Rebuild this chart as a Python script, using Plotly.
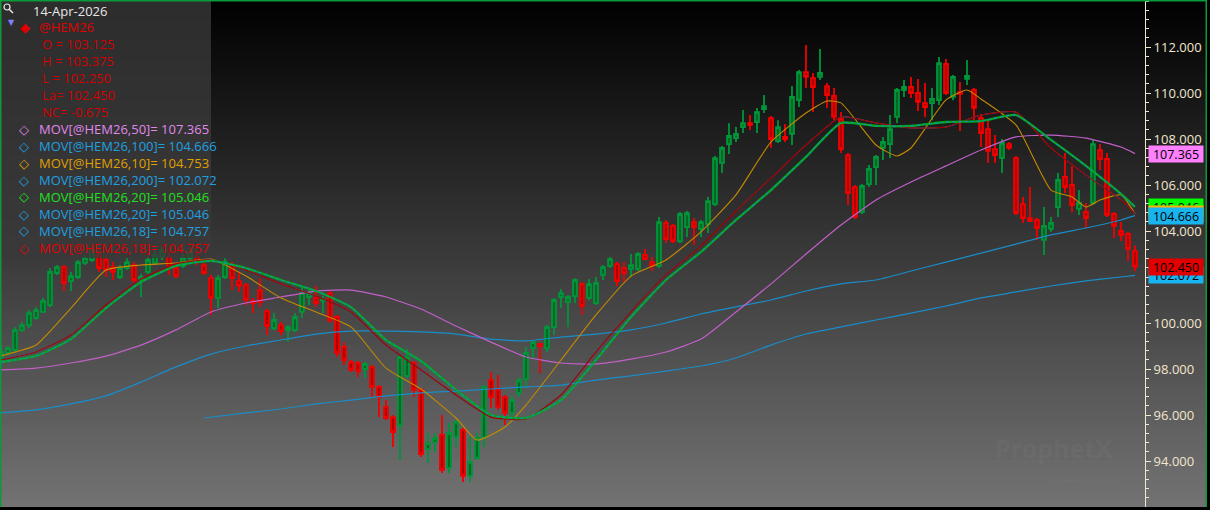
import plotly.graph_objects as go

# Daily bars of @HEM26, last bar = 14-Apr-2026
opens = [
    98.39, 98.70, 98.83, 99.69, 99.91, 100.22, 100.48, 100.78, 102.17, 102.43,
    101.82, 102.00, 102.61, 102.74, 102.96, 102.74, 102.43, 102.00, 102.39, 102.52,
    101.87, 102.22, 102.61, 102.87, 102.87, 102.39, 102.48, 102.82, 102.87, 102.52,
    101.95, 101.09, 102.00, 102.52, 101.82, 101.65, 100.96, 101.43, 100.52, 99.78,
    99.91, 99.69, 99.69, 100.48, 101.13, 101.09, 100.96, 101.30, 100.26, 98.96,
    98.30, 98.26, 98.00, 98.09, 97.22, 96.35, 95.91, 95.56, 97.70, 98.26,
    97.09, 94.52, 94.82, 95.13, 93.70, 95.04, 95.35, 93.35, 94.13, 95.04,
    97.52, 97.09, 96.78, 96.09, 96.96, 97.56, 98.91, 99.09, 98.91, 99.82,
    101.13, 100.91, 101.17, 101.69, 101.09, 100.87, 102.09, 102.48, 102.56, 102.39,
    102.35, 102.35, 102.96, 102.65, 102.48, 104.35, 104.22, 103.56, 104.17, 104.39,
    104.09, 104.30, 105.17, 106.96, 107.78, 108.04, 108.52, 108.69, 108.74, 109.30,
    108.91, 107.91, 108.09, 108.22, 109.69, 110.91, 110.65, 110.70, 110.30, 109.87,
    108.87, 107.30, 105.91, 104.82, 106.04, 106.78, 107.61, 107.78, 108.96, 110.13,
    110.26, 110.00, 109.56, 109.56, 109.69, 111.26, 109.83, 110.04, 110.61, 110.13,
    108.91, 108.43, 107.56, 107.17, 107.78, 107.17, 105.17, 104.56, 104.48, 103.61,
    104.09, 105.04, 106.35, 106.00, 104.96, 104.83, 105.22, 107.52, 107.13, 104.74,
    104.00, 103.87, 103.125,
]
highs = [
    99.04, 99.00, 99.82, 100.04, 100.56, 100.69, 101.09, 102.39, 102.52, 102.52,
    102.22, 102.74, 102.96, 103.39, 103.17, 102.96, 102.65, 102.52, 102.82, 102.65,
    102.13, 102.87, 103.17, 103.30, 103.17, 102.65, 103.00, 103.26, 103.17, 102.74,
    102.09, 102.09, 102.82, 102.65, 102.22, 101.74, 101.09, 101.95, 100.61, 100.43,
    100.04, 99.91, 100.43, 101.61, 101.48, 101.61, 101.17, 101.39, 100.35, 99.17,
    98.39, 98.35, 98.30, 98.17, 97.30, 96.65, 96.00, 98.61, 98.87, 98.35,
    97.17, 95.22, 95.22, 96.00, 95.65, 95.78, 95.43, 95.04, 95.22, 97.30,
    97.87, 97.74, 96.87, 96.87, 97.61, 98.96, 99.26, 99.13, 99.91, 101.09,
    101.48, 101.22, 101.95, 101.78, 101.91, 102.00, 102.52, 102.87, 102.65, 102.65,
    103.00, 103.09, 103.22, 102.87, 104.61, 104.48, 104.30, 104.82, 104.87, 104.56,
    104.48, 105.48, 107.26, 107.70, 108.69, 108.52, 109.26, 109.04, 109.35, 109.91,
    109.00, 108.82, 108.65, 110.30, 111.00, 112.09, 110.87, 111.91, 110.43, 110.22,
    109.17, 107.39, 106.00, 106.04, 106.87, 107.30, 108.09, 109.04, 110.22, 110.56,
    110.70, 110.61, 110.43, 110.22, 111.56, 111.48, 110.78, 110.48, 111.43, 110.22,
    109.09, 108.83, 108.17, 108.00, 107.87, 107.26, 105.48, 105.91, 104.56, 105.04,
    104.61, 106.52, 107.39, 106.82, 105.78, 105.22, 107.95, 107.78, 107.39, 104.83,
    104.39, 103.96, 103.375,
]
lows = [
    98.26, 98.57, 98.74, 99.61, 99.78, 100.13, 100.43, 100.69, 102.09, 101.39,
    101.39, 101.91, 102.52, 102.65, 102.22, 102.00, 101.87, 101.91, 102.30, 101.74,
    101.13, 102.13, 102.52, 102.74, 102.09, 101.95, 102.39, 102.74, 102.52, 102.09,
    100.35, 100.65, 101.91, 101.43, 101.35, 100.78, 100.43, 100.69, 99.48, 99.69,
    99.48, 99.17, 99.61, 100.22, 100.78, 100.69, 100.43, 100.00, 98.52, 98.17,
    97.87, 97.65, 97.61, 96.78, 95.91, 95.78, 94.61, 94.04, 97.61, 96.78,
    94.17, 93.91, 94.39, 93.48, 93.48, 94.61, 93.09, 93.09, 94.04, 94.61,
    96.30, 96.22, 95.56, 95.78, 96.78, 97.17, 98.48, 97.82, 98.74, 99.48,
    100.65, 99.82, 100.87, 100.35, 101.00, 100.78, 101.87, 102.39, 101.61, 101.78,
    102.00, 102.26, 102.74, 102.26, 102.39, 103.48, 103.48, 103.48, 103.74, 103.39,
    103.74, 103.91, 105.09, 106.52, 107.35, 107.87, 108.26, 108.39, 108.26, 109.13,
    107.61, 107.83, 107.87, 107.74, 109.39, 110.22, 109.17, 110.56, 109.35, 108.82,
    107.39, 105.13, 104.52, 104.74, 105.91, 106.00, 107.09, 107.17, 108.70, 109.83,
    109.78, 109.22, 108.96, 108.82, 109.48, 109.91, 109.69, 108.35, 110.35, 108.82,
    107.65, 106.96, 106.96, 106.52, 107.52, 104.70, 104.35, 104.39, 103.61, 102.96,
    103.96, 104.61, 105.65, 104.82, 104.70, 104.13, 105.13, 106.65, 104.61, 103.70,
    103.56, 102.70, 102.25,
]
closes = [
    98.74, 98.91, 99.69, 99.91, 100.43, 100.56, 100.96, 102.22, 102.43, 101.74,
    102.04, 102.65, 102.82, 103.17, 102.39, 102.30, 102.22, 102.39, 102.65, 101.87,
    102.00, 102.74, 102.96, 103.17, 102.43, 102.04, 102.82, 103.09, 102.65, 102.17,
    101.09, 101.95, 102.65, 101.95, 101.61, 101.00, 100.87, 100.91, 99.87, 100.13,
    99.65, 99.82, 100.26, 101.30, 101.30, 100.87, 101.04, 100.13, 98.70, 98.39,
    97.96, 97.91, 98.22, 97.22, 96.78, 95.87, 95.26, 98.52, 98.52, 97.09,
    94.30, 94.78, 95.00, 93.61, 95.22, 95.70, 93.35, 93.96, 95.00, 97.22,
    96.78, 96.35, 96.09, 96.65, 97.52, 98.70, 99.17, 99.00, 99.82, 101.00,
    101.30, 101.13, 101.87, 100.74, 101.69, 101.74, 102.43, 102.78, 101.82, 102.17,
    102.52, 103.00, 102.78, 102.48, 104.39, 103.65, 103.56, 104.74, 104.78, 104.17,
    104.39, 105.30, 107.17, 107.61, 108.13, 108.22, 108.69, 108.61, 109.17, 109.43,
    108.00, 108.52, 108.00, 109.83, 110.91, 110.70, 110.26, 110.87, 109.91, 108.96,
    107.56, 105.65, 104.61, 105.96, 106.70, 107.22, 107.87, 108.43, 110.13, 110.26,
    110.00, 109.61, 109.39, 109.74, 111.30, 110.00, 110.70, 109.96, 110.74, 109.35,
    108.26, 107.48, 107.30, 107.83, 107.61, 104.78, 104.56, 104.43, 104.13, 104.22,
    104.35, 106.22, 105.91, 105.13, 105.22, 104.56, 107.78, 107.13, 104.70, 104.22,
    103.83, 103.22, 102.45,
]
net_change = -0.675

# moving averages, read at these bar indices
ma_idx = [0, 5, 10, 15, 20, 25, 30, 35, 40, 45, 50, 55, 60, 65, 70, 75, 80,
          85, 90, 95, 100, 105, 110, 115, 120, 125, 130, 135, 140, 145, 150,
          155, 160, 162]
ma50 = [97.96, 98.04, 98.26, 98.56, 99.04, 99.70, 100.48, 100.87, 101.13,
        101.39, 101.43, 101.13, 100.61, 99.87, 99.17, 98.52, 98.26, 98.22,
        98.43, 98.74, 99.30, 100.48, 101.70, 103.00, 104.26, 105.35, 106.13,
        106.83, 107.52, 108.09, 108.17, 108.04, 107.65, 107.365]
ma100 = [96.09, 96.22, 96.48, 96.83, 97.43, 98.09, 98.65, 99.00, 99.26, 99.52,
         99.65, 99.65, 99.61, 99.52, 99.30, 99.22, 99.39, 99.52, 99.70, 100.00,
         100.39, 100.70, 101.00, 101.39, 101.70, 101.87, 102.26, 102.65, 103.04,
         103.43, 103.83, 104.13, 104.48, 104.666]
ma20 = [98.30, 98.57, 99.30, 100.65, 101.78, 102.48, 102.70, 102.39, 101.87,
        101.39, 100.69, 99.26, 98.35, 97.09, 96.00, 95.87, 96.65, 98.39, 100.26,
        101.87, 103.09, 104.48, 105.78, 107.22, 108.70, 108.57, 108.57, 108.74,
        108.78, 109.04, 107.96, 106.83, 105.61, 105.046]
ma18 = [98.39, 98.74, 99.48, 100.78, 101.91, 102.57, 102.74, 102.30, 101.70,
        101.17, 100.48, 99.04, 97.96, 96.87, 95.91, 95.83, 96.87, 98.74, 100.48,
        102.09, 103.35, 104.87, 106.30, 107.74, 108.96, 108.70, 108.48, 108.52,
        109.04, 109.17, 107.61, 106.43, 105.35, 104.757]

ma200_idx = [29, 35, 40, 45, 50, 55, 60, 65, 70, 75, 80, 85, 90, 95, 100, 105,
             110, 115, 120, 125, 130, 135, 140, 145, 150, 155, 160, 162]
ma200 = [95.87, 96.09, 96.26, 96.48, 96.65, 96.83, 96.96, 97.04, 97.13, 97.22,
         97.30, 97.52, 97.70, 97.91, 98.13, 98.48, 99.04, 99.52, 99.83, 100.13,
         100.43, 100.74, 101.09, 101.35, 101.61, 101.83, 102.00, 102.072]

ma10_idx = [0, 5, 10, 15, 20, 25, 30, 35, 40, 45, 50, 55, 60, 65, 68, 72, 75,
            80, 85, 90, 95, 100, 105, 110, 115, 118, 120, 125, 128, 130, 135,
            138, 140, 145, 150, 153, 155, 157, 160, 162]
ma10 = [98.57, 99.04, 100.65, 102.30, 102.52, 102.61, 102.78, 102.04, 101.09,
        100.48, 99.83, 98.04, 97.13, 95.87, 94.91, 95.48, 96.43, 98.39, 100.35,
        102.04, 102.74, 103.96, 105.57, 107.87, 109.13, 109.65, 109.57, 107.74,
        107.26, 107.61, 109.70, 110.13, 109.74, 108.61, 105.78, 105.48, 105.04,
        105.35, 105.57, 104.753]

price_ticks = [94, 96, 98, 100, 102, 104, 106, 108, 110, 112]
last_date = "14-Apr-2026"
symbol = "@HEM26"

W, H = 1210, 510
PLOT_RIGHT = 1145
FONT = "Open Sans"
BLUE = "#1a8cc8"


def px(x):
    return x / W


def py(y):
    return 1 - y / H


bars = list(range(len(closes)))
smooth = dict(shape="spline", smoothing=0.5)

fig = go.Figure()

# moving averages (drawn under the candles)
fig.add_trace(go.Scatter(x=ma200_idx, y=ma200, mode="lines",
                         line=dict(color=BLUE, width=1.2, **smooth)))
fig.add_trace(go.Scatter(x=ma_idx, y=ma100, mode="lines",
                         line=dict(color=BLUE, width=1.2, **smooth)))
fig.add_trace(go.Scatter(x=ma_idx, y=ma50, mode="lines",
                         line=dict(color="#c060c8", width=1.2, **smooth)))
fig.add_trace(go.Scatter(x=ma10_idx, y=ma10, mode="lines",
                         line=dict(color="#c48a00", width=1.1, **smooth)))
fig.add_trace(go.Scatter(x=ma_idx, y=ma18, mode="lines",
                         line=dict(color=BLUE, width=1, **smooth)))
fig.add_trace(go.Scatter(x=ma_idx, y=ma18, mode="lines",
                         line=dict(color="#a00000", width=1.2, **smooth)))
fig.add_trace(go.Scatter(x=ma_idx, y=ma20, mode="lines",
                         line=dict(color="#00a818", width=2.3, **smooth)))
fig.add_trace(go.Scatter(x=ma_idx, y=ma20, mode="lines",
                         line=dict(color=BLUE, width=1.1, dash="dot", **smooth)))

fig.add_trace(go.Candlestick(
    x=bars, open=opens, high=highs, low=lows, close=closes,
    increasing=dict(line=dict(color="#00963a", width=1.8), fillcolor="#006a24"),
    decreasing=dict(line=dict(color="#f20000", width=1.8), fillcolor="#b00000"),
    hoverinfo="skip",
))

shapes = []
# dark-to-grey vertical gradient behind everything
for k in range(0, H, 5):
    g = int(round(0.226 * (k + 2.5)))
    shapes.append(dict(type="rect", xref="paper", yref="paper", x0=0, x1=1,
                       y0=py(k + 5), y1=py(k), fillcolor=f"rgb({g},{g},{g})",
                       line_width=0, layer="below"))
# legend panel
shapes.append(dict(type="rect", xref="paper", yref="paper", x0=0, x1=px(211),
                   y0=py(258), y1=1, fillcolor="rgba(58,58,58,0.78)",
                   line_width=0, layer="above"))
# magnifier icon
shapes.append(dict(type="circle", xref="paper", yref="paper", x0=px(4), x1=px(10),
                   y0=py(10), y1=py(4), line=dict(color="#e8e8e8", width=1.2)))
shapes.append(dict(type="line", xref="paper", yref="paper", x0=px(9.5), x1=px(13),
                   y0=py(9.5), y1=py(13), line=dict(color="#e8e8e8", width=1.5)))
# frame
shapes.append(dict(type="rect", xref="paper", yref="paper", x0=0, x1=1,
                   y0=0, y1=py(507), fillcolor="#000000", line_width=0))
shapes.append(dict(type="rect", xref="paper", yref="paper", x0=px(1207), x1=1,
                   y0=0, y1=1, fillcolor="#000000", line_width=0))
for x0, x1, y0, y1 in [(0, 1207, 0, 1.5), (0, 1.5, 0, 507), (1205.5, 1207, 0, 507)]:
    shapes.append(dict(type="rect", xref="paper", yref="paper", x0=px(x0), x1=px(x1),
                       y0=py(y1), y1=py(y0), fillcolor="#0a9a3a", line_width=0))

ann = []


def label(x, y, text, color, size=13, family=FONT):
    ann.append(dict(xref="paper", yref="paper", x=px(x), y=py(y), text=text,
                    showarrow=False, xanchor="left", yanchor="middle",
                    font=dict(family=family, size=size, color=color)))


label(31, 11, last_date, "#e6e6e6")
label(6, 23, "▼", "#8080ff", size=8, family="DejaVu Sans")
label(18, 27, "◆", "#e00000", size=13, family="DejaVu Sans")
label(37, 27, symbol, "#e00000")
red_txt = "#d00000"
label(40, 44, f"O = {opens[-1]:.3f}", red_txt)
label(40, 61, f"H = {highs[-1]:.3f}", red_txt)
label(40, 78, f"L = {lows[-1]:.3f}", red_txt)
label(40, 95, f"La= {closes[-1]:.3f}", red_txt)
label(40, 112, f"NC= {net_change:.3f}", red_txt)

legend_rows = [
    ("50", ma50[-1], "#e088ee"),
    ("100", ma100[-1], "#20a0e0"),
    ("10", ma10[-1], "#e0a000"),
    ("200", ma200[-1], "#20a0e0"),
    ("20", ma20[-1], "#20e020"),
    ("20", ma20[-1], "#20a0e0"),
    ("18", ma18[-1], "#20a0e0"),
    ("18", ma18[-1], "#e00000"),
]
for n, (period, val, col) in enumerate(legend_rows):
    yy = 129 + 17 * n
    label(17, yy, "◇", col, size=13, family="DejaVu Sans")
    label(37, yy, f"MOV[{symbol},{period}]= {val:.3f}", col)

# value tags on the price scale (later ones cover earlier ones)
tags = [
    (ma50[-1], "#ff80ff"),
    (ma20[-1], "#00ff00"),
    (ma10[-1], "#ffb000"),
    (ma100[-1], "#18b4f0"),
    (ma200[-1], "#18b4f0"),
    (closes[-1], "#e00000"),
]
for val, col in tags:
    ann.append(dict(xref="paper", yref="y", x=px(1148), y=val, text=f"{val:.3f}",
                    showarrow=False, xanchor="left", yanchor="middle",
                    width=54, height=16, align="center", bgcolor=col, borderpad=0,
                    font=dict(family=FONT, size=12.5, color="#000000")))

# watermark
ann.append(dict(xref="paper", yref="paper", x=px(1053), y=py(467), text="<b>ProphetX</b>",
                xanchor="center", showarrow=False,
                font=dict(family=FONT, size=25, color="rgba(255,255,255,0.05)")))
ann.append(dict(xref="paper", yref="paper", x=px(1082), y=py(487), text="powered by DTN",
                xanchor="center", showarrow=False,
                font=dict(family=FONT, size=8, color="rgba(255,255,255,0.06)")))

fig.update_layout(
    width=W, height=H,
    margin=dict(l=0, r=0, t=0, b=0),
    paper_bgcolor="#000000",
    plot_bgcolor="rgba(0,0,0,0)",
    showlegend=False,
    boxgap=0.2,
    xaxis=dict(domain=[0, PLOT_RIGHT / W], range=[-0.14, 163.43],
               showgrid=False, zeroline=False, showticklabels=False,
               showline=False, ticks="", rangeslider=dict(visible=False)),
    yaxis=dict(domain=[0, 1], range=[114.0435 - H / 23, 114.0435], side="right",
               showgrid=False, zeroline=False, showline=True, linecolor="#f2e6cc",
               linewidth=1, tickmode="array", tickvals=price_ticks,
               ticktext=[f"{t:.3f}" for t in price_ticks],
               ticks="outside", ticklen=5, tickcolor="#f2e6cc",
               minor=dict(tickmode="linear", tick0=0, dtick=0.4, ticks="outside",
                          ticklen=3, tickcolor="#f2e6cc"),
               tickfont=dict(family=FONT, size=13, color="#f2e6cc"),
               automargin=False),
    shapes=shapes,
    annotations=ann,
)

# page has a default 8px body margin; drop it so the chart fills the window
fig.write_html("out.html", config={"displayModeBar": False},
               post_script="document.body.style.margin='0';")
